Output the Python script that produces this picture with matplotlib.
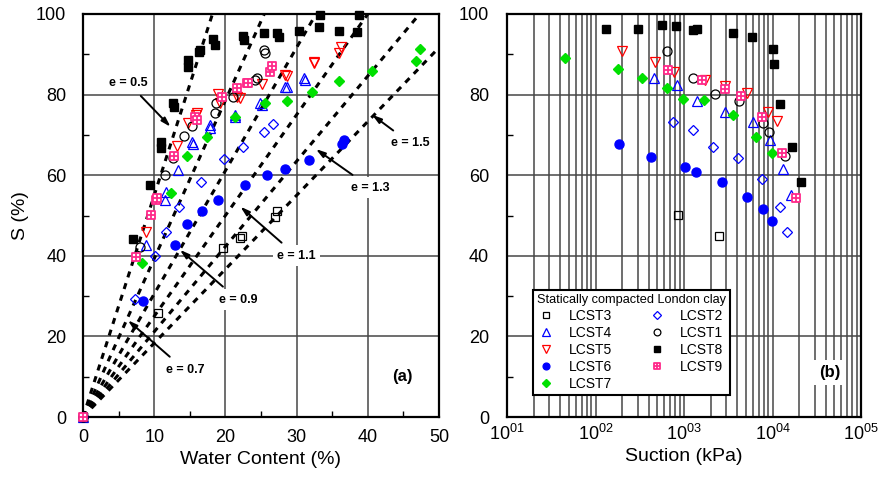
import numpy as np
import matplotlib
matplotlib.use("Agg")
import matplotlib.pyplot as plt
from matplotlib.path import Path
from matplotlib.ticker import MultipleLocator, FixedLocator, FixedFormatter, NullFormatter

plt.rcParams['font.family'] = ['Liberation Sans', 'DejaVu Sans']

# ---- panel (a): water content (%) vs degree of saturation (%)
w_lcst3 = [0, 10.6, 19.7, 22.1, 22.3, 26.9, 27.2]
S_lcst3 = [0, 25.8, 41.9, 44.4, 45.0, 49.7, 51.0]
w_lcst2 = [0, 7.3, 10.1, 11.7, 13.5, 16.6, 19.8, 22.5, 25.4, 26.7]
S_lcst2 = [0, 29.3, 40.0, 46.0, 52.2, 58.4, 64.0, 67.1, 70.8, 72.7]
w_lcst4 = [0, 8.9, 11.5, 11.7, 13.4, 15.3, 15.5, 17.8, 17.8, 21.4, 21.4, 24.9, 25.1, 28.4, 28.6, 31.0, 31.2]
S_lcst4 = [0, 42.7, 53.8, 55.9, 61.3, 68.3, 67.8, 72.5, 71.7, 75.0, 74.5, 77.9, 77.4, 82.0, 81.8, 84.1, 83.6]
w_lcst1 = [0, 8.0, 11.5, 12.7, 14.2, 15.3, 18.5, 18.7, 21.1, 24.2, 24.4, 25.4, 25.6]
S_lcst1 = [0, 42.3, 60.1, 64.2, 69.7, 72.1, 75.4, 77.9, 79.5, 83.6, 84.1, 91.1, 90.4]
w_lcst5 = [8.9, 13.2, 14.8, 15.9, 16.0, 18.9, 19.3, 21.6, 22.1, 25.1, 28.4, 28.6, 32.4, 32.5, 35.9, 36.2]
S_lcst5 = [46.0, 67.3, 72.9, 75.0, 75.4, 80.1, 77.9, 79.5, 79.1, 82.6, 84.9, 84.6, 87.8, 88.2, 90.3, 91.9]
w_lcst8 = [0, 7.0, 9.4, 11.0, 11.0, 12.7, 12.8, 14.7, 14.7, 16.3, 16.4, 18.3, 18.5, 22.5, 22.6,
           25.4, 27.2, 27.5, 30.3, 33.1, 33.3, 35.9, 38.5, 38.7]
S_lcst8 = [0, 44.1, 57.6, 68.3, 66.7, 77.9, 77.0, 88.6, 86.9, 90.6, 91.1, 93.7, 92.3, 94.5, 93.5,
           95.4, 95.4, 94.2, 95.8, 96.8, 99.7, 95.7, 95.6, 99.8]
w_lcst6 = [0, 8.4, 12.9, 14.6, 16.7, 19.0, 22.7, 25.8, 28.4, 31.7, 36.4, 36.6]
S_lcst6 = [0, 28.9, 42.7, 47.9, 51.0, 53.9, 57.6, 60.1, 61.5, 63.8, 67.8, 68.8]
w_lcst9 = [0, 7.5, 9.6, 10.3, 10.4, 12.8, 15.7, 16.0, 19.5, 21.6, 23.0, 23.2, 26.2, 26.5]
S_lcst9 = [0, 39.8, 50.2, 53.9, 54.3, 64.8, 74.4, 73.7, 79.3, 81.6, 82.8, 83.0, 85.7, 87.1]
w_lcst7 = [8.3, 12.3, 14.6, 17.4, 21.4, 25.6, 28.6, 32.2, 35.9, 40.6, 46.7, 47.4]
S_lcst7 = [38.2, 55.5, 64.8, 69.6, 74.5, 77.9, 78.5, 80.7, 83.4, 85.9, 88.4, 91.2]

# void ratio lines S = Gs * w / e
void_ratios = [0.5, 0.7, 0.9, 1.1, 1.3, 1.5]
Gs = 2.75
w_line = np.array([0.0, 50.0])

# ---- panel (b): suction (kPa) vs degree of saturation (%)
s_lcst3 = [863, 2480]
Sb_lcst3 = [50.2, 44.8]
s_lcst2 = [745, 1253, 2140, 4110, 7550, 12150, 14450]
Sb_lcst2 = [73.1, 71.2, 66.9, 64.2, 59.1, 52.2, 46.0]
s_lcst4 = [458, 841, 1412, 2900, 6070, 9450, 13030, 16060]
Sb_lcst4 = [84.0, 82.4, 78.4, 75.6, 73.1, 68.8, 61.6, 55.1]
s_lcst1 = [637, 1275, 2240, 4220, 7870, 9050, 13840]
Sb_lcst1 = [90.9, 84.0, 80.1, 78.3, 72.9, 70.6, 64.8]
s_lcst5 = [201, 470, 770, 1726, 2900, 5100, 8830, 11330]
Sb_lcst5 = [90.7, 88.2, 85.5, 83.6, 82.1, 80.5, 75.8, 73.5]
s_lcst8 = [131, 305, 569, 813, 1253, 1390, 3550, 5820, 10050, 10470, 12150, 16490, 21000]
Sb_lcst8 = [96.3, 96.3, 97.3, 96.9, 96.0, 96.4, 95.2, 94.4, 91.2, 87.5, 77.7, 67.1, 58.3]
s_lcst6 = [183, 424, 1026, 1368, 2710, 5100, 7740, 9950]
Sb_lcst6 = [67.8, 64.5, 62.1, 60.7, 58.4, 54.7, 51.6, 48.7]
s_lcst7 = [45, 178, 333, 647, 982, 1683, 3606, 6500, 9770]
Sb_lcst7 = [89.0, 86.3, 84.0, 81.7, 78.9, 78.7, 75.0, 69.6, 65.5]
s_lcst9 = [665, 1585, 2900, 4370, 7550, 12710, 18400]
Sb_lcst9 = [86.1, 83.7, 81.5, 79.7, 74.4, 65.5, 54.3]

# square with a cross inside for LCST9
grid_sq = Path([(-1, -1), (1, -1), (1, 1), (-1, 1), (-1, -1), (0, -1), (0, 1), (-1, 0), (1, 0)],
               [Path.MOVETO, Path.LINETO, Path.LINETO, Path.LINETO, Path.CLOSEPOLY,
                Path.MOVETO, Path.LINETO, Path.MOVETO, Path.LINETO])

BLUE = '#0000ff'
RED = '#ff0000'
GREEN = '#00e000'
PINK = '#ff2a8a'

styles = {
    'LCST3': dict(marker='s', mfc='none', mec='black', ms=6, mew=0.9),
    'LCST4': dict(marker='^', mfc='none', mec=BLUE, ms=7, mew=0.9),
    'LCST5': dict(marker='v', mfc='none', mec=RED, ms=7, mew=0.9),
    'LCST6': dict(marker='o', mfc=BLUE, mec=BLUE, ms=6.5),
    'LCST7': dict(marker='D', mfc=GREEN, mec=GREEN, ms=5.5),
    'LCST2': dict(marker='D', mfc='none', mec=BLUE, ms=5, mew=0.9),
    'LCST1': dict(marker='o', mfc='none', mec='black', ms=6.5, mew=0.9),
    'LCST8': dict(marker='s', mfc='black', mec='black', ms=5.5),
    'LCST9': dict(marker=grid_sq, mfc='white', mec=PINK, ms=5.5, mew=1.3),
}

left_data = {
    'LCST3': (w_lcst3, S_lcst3), 'LCST4': (w_lcst4, S_lcst4), 'LCST5': (w_lcst5, S_lcst5),
    'LCST6': (w_lcst6, S_lcst6), 'LCST7': (w_lcst7, S_lcst7), 'LCST2': (w_lcst2, S_lcst2),
    'LCST1': (w_lcst1, S_lcst1), 'LCST8': (w_lcst8, S_lcst8), 'LCST9': (w_lcst9, S_lcst9),
}
right_data = {
    'LCST3': (s_lcst3, Sb_lcst3), 'LCST4': (s_lcst4, Sb_lcst4), 'LCST5': (s_lcst5, Sb_lcst5),
    'LCST6': (s_lcst6, Sb_lcst6), 'LCST7': (s_lcst7, Sb_lcst7), 'LCST2': (s_lcst2, Sb_lcst2),
    'LCST1': (s_lcst1, Sb_lcst1), 'LCST8': (s_lcst8, Sb_lcst8), 'LCST9': (s_lcst9, Sb_lcst9),
}
legend_order = ['LCST3', 'LCST4', 'LCST5', 'LCST6', 'LCST7', 'LCST2', 'LCST1', 'LCST8', 'LCST9']

fig = plt.figure(figsize=(8.82, 4.79), dpi=100)
ax1 = fig.add_axes([83 / 882, 1 - 417 / 479, (439 - 83) / 882, (417 - 14) / 479])
ax2 = fig.add_axes([507 / 882, 1 - 417 / 479, (861 - 507) / 882, (417 - 14) / 479])

GRID = '#474747'

# ---------------- panel (a)
for e in void_ratios:
    ax1.plot(w_line, Gs * w_line / e, color='black', lw=2.2, ls=(0, (2.0, 2.0)), zorder=2)

for name in legend_order:
    w, S = left_data[name]
    ax1.plot(w, S, ls='none', zorder=4, clip_on=False, **styles[name])

ax1.set_xlim(0, 50)
ax1.set_ylim(0, 100)
ax1.xaxis.set_major_locator(MultipleLocator(10))
ax1.xaxis.set_minor_locator(MultipleLocator(5))
ax1.yaxis.set_major_locator(MultipleLocator(20))
ax1.yaxis.set_minor_locator(MultipleLocator(10))
ax1.grid(True, which='major', color=GRID, lw=1.1, zorder=1)
ax1.set_axisbelow(True)
ax1.tick_params(which='both', direction='in', labelsize=13, top=False, right=False)
ax1.tick_params(which='major', length=0)
ax1.tick_params(axis='y', which='major', pad=12)
ax1.tick_params(axis='x', which='major', pad=9)
ax1.tick_params(which='minor', length=4, width=1)
ax1.set_xlabel('Water Content (%)', fontsize=14, labelpad=3)
ax1.set_ylabel('S (%)', fontsize=14, labelpad=5)

notes = [
    ('e = 0.5', (6.3, 83.0), (12.3, 72.0)),
    ('e = 0.7', (14.3, 11.7), (6.3, 24.0)),
    ('e = 0.9', (21.8, 29.1), (13.6, 41.5)),
    ('e = 1.1', (30.0, 40.0), (22.1, 52.2)),
    ('e = 1.3', (40.4, 56.9), (32.7, 66.5)),
    ('e = 1.5', (46.0, 67.9), (40.6, 75.0)),
]
for txt, xyt, xyh in notes:
    ax1.annotate(txt, xy=xyh, xytext=xyt, fontsize=9, fontweight='bold', ha='center', va='center',
                 bbox=dict(boxstyle='square,pad=0.35', fc='white', ec='none'),
                 arrowprops=dict(arrowstyle='-|>,head_length=0.6,head_width=0.18', color='black',
                                 lw=1.4, shrinkA=3, shrinkB=0),
                 zorder=5)
ax1.text(44.8, 10.1, '(a)', fontsize=12, fontweight='bold', ha='center', va='center')

# ---------------- panel (b)
for name in legend_order:
    s, S = right_data[name]
    ax2.plot(s, S, ls='none', zorder=4, label=name, **styles[name])

ax2.set_xscale('log')
ax2.set_xlim(10, 1e5)
ax2.set_ylim(0, 100)
ax2.xaxis.set_major_locator(FixedLocator([10, 100, 1000, 10000, 100000]))
ax2.xaxis.set_major_formatter(FixedFormatter([r'$\mathregular{10^{01}}$', r'$\mathregular{10^{02}}$',
                                              r'$\mathregular{10^{03}}$', r'$\mathregular{10^{04}}$',
                                              r'$\mathregular{10^{05}}$']))
ax2.xaxis.set_minor_formatter(NullFormatter())
ax2.yaxis.set_major_locator(MultipleLocator(20))
ax2.yaxis.set_minor_locator(MultipleLocator(10))
ax2.grid(True, which='both', axis='x', color=GRID, lw=1.1, zorder=1)
ax2.grid(True, which='major', axis='y', color=GRID, lw=1.1, zorder=1)
ax2.set_axisbelow(True)
ax2.tick_params(which='both', direction='in', labelsize=13, top=False, right=False)
ax2.tick_params(which='major', length=0)
ax2.tick_params(axis='y', which='major', pad=13)
ax2.tick_params(axis='x', which='major', pad=5)
ax2.tick_params(axis='x', which='minor', length=0)
ax2.tick_params(axis='y', which='minor', length=4, width=1)
ax2.set_xlabel('Suction (kPa)', fontsize=14, labelpad=3)
ax2.text(44700, 11, '(b)', fontsize=12, fontweight='bold', ha='center', va='center',
         bbox=dict(boxstyle='square,pad=0.3', fc='white', ec='none'), zorder=5)

leg = ax2.legend(ncol=2, loc='lower left', bbox_to_anchor=(0.073, 0.054),
                 title='Statically compacted London clay', title_fontsize=9.2, fontsize=10,
                 fancybox=False, framealpha=1, edgecolor='black', borderpad=0.3,
                 labelspacing=0.22, handletextpad=1.0, columnspacing=2.6, markerscale=0.75,
                 handlelength=1.3, borderaxespad=0)
leg.get_frame().set_linewidth(1.5)
leg._legend_box.align = 'left'
leg.set_zorder(6)

for ax in (ax1, ax2):
    for sp in ax.spines.values():
        sp.set_linewidth(1.6)

fig.savefig('out.png', dpi=100)
